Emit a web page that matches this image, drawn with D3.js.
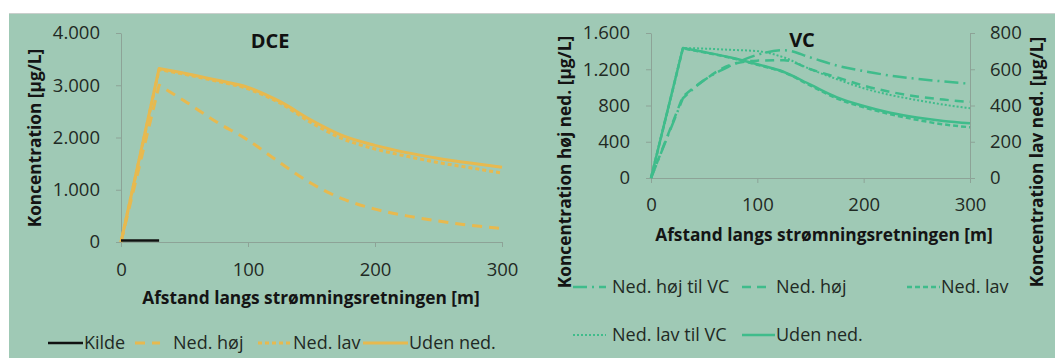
<!DOCTYPE html>
<html>
<head>
<meta charset="utf-8">
<script src="https://cdn.jsdelivr.net/npm/d3@7"></script>
<style>
  body { margin: 0; background: #fff; }
  svg { display: block; font-family: "Open Sans", sans-serif; }
  .axis path, .axis line { stroke: #8da397; }
  .axis text { font-size: 18.5px; fill: #1f2a24; font-family: "Open Sans", sans-serif; }
  .title { font-size: 20px; font-weight: bold; fill: #111; font-family: "Open Sans", sans-serif; }
  .axis-label { font-size: 17.3px; font-weight: bold; fill: #141414; font-family: "Open Sans", sans-serif; }
  .legend-text { font-size: 18px; fill: #1f2a24; font-family: "Open Sans", sans-serif; }
</style>
</head>
<body>
<script>
// distances along the flow direction [m]
const dceDist = [0, 30, 50, 75, 100, 125, 150, 175, 200, 225, 250, 275, 300];
const kildeDist = [0, 30];
const dceKilde = [30, 30];
const dceNedHoj = [0, 3000, 2700, 2300, 1950, 1520, 1120, 820, 630, 500, 400, 320, 260];
const dceNedLav = [0, 3300, 3210, 3080, 2930, 2660, 2280, 1970, 1780, 1640, 1520, 1420, 1320];
const dceUden = [0, 3320, 3230, 3100, 2960, 2690, 2330, 2030, 1850, 1710, 1600, 1510, 1430];

const vcDist = [0, 30, 50, 75, 100, 125, 150, 175, 200, 225, 250, 275, 300];
// left axis (høj ned.)
const vcNedHojTilVC = [0, 880, 1080, 1240, 1360, 1410, 1330, 1240, 1180, 1130, 1095, 1065, 1040];
const vcNedHoj = [0, 900, 1080, 1250, 1295, 1300, 1200, 1110, 1020, 950, 900, 865, 840];
const vcUden = [0, 1435, 1390, 1330, 1255, 1170, 1030, 890, 795, 720, 668, 630, 605];
// right axis (lav ned.)
const vcNedLav = [0, 715, 693, 663, 625, 583, 510, 438, 390, 352, 321, 296, 280];
const vcNedLavTilVC = [0, 717, 714, 707, 700, 665, 600, 545, 495, 458, 430, 405, 385];

const xTicks = [0, 100, 200, 300];
const dceTicksY = [0, 1000, 2000, 3000, 4000];
const vcTicksLeft = [0, 400, 800, 1200, 1600];
const vcTicksRight = [0, 200, 400, 600, 800];

const fmt = d3.formatLocale({ decimal: ",", thousands: ".", grouping: [3], currency: ["", ""] }).format(",");

const orange = "#e7b94f";
const green = "#3fbc8b";

const svg = d3.select("body").append("svg").attr("width", 1055).attr("height", 358);
svg.append("rect").attr("x", 9).attr("y", 13).attr("width", 1046).attr("height", 345).attr("fill", "#9fc9b5");
svg.append("line").attr("x1", 9).attr("x2", 1055).attr("y1", 13.5).attr("y2", 13.5).attr("stroke", "#c9cfcc");

// sharp corner at the source end, smooth afterwards
const lin = d3.line();
const mono = d3.line().curve(d3.curveMonotoneX);
const pathFor = (xs, ys, x, y) => {
  const pts = xs.map((d, i) => [x(d), y(ys[i])]);
  if (pts.length < 3) return lin(pts);
  return lin(pts.slice(0, 2)) + mono(pts.slice(1)).replace(/^M[^A-Za-z]*/, "");
};

const drawLine = (g, d, color, width, dash) => {
  g.append("path")
    .attr("d", d)
    .attr("fill", "none")
    .attr("stroke", color)
    .attr("stroke-width", width)
    .attr("stroke-dasharray", dash)
    .attr("stroke-linejoin", "round");
};

const legendItem = (g, x0, x1, tx, y, label, color, width, dash) => {
  g.append("line").attr("x1", x0).attr("x2", x1).attr("y1", y).attr("y2", y)
    .attr("stroke", color).attr("stroke-width", width).attr("stroke-dasharray", dash);
  g.append("text").attr("class", "legend-text").attr("x", tx).attr("y", y + 6).text(label);
};

//--> DCE
const dx = d3.scaleLinear().domain([0, 300]).range([121, 502]);
const dy = d3.scaleLinear().domain([0, 4000]).range([242, 33]);

svg.append("g").attr("class", "axis")
  .attr("transform", "translate(0,242)")
  .call(d3.axisBottom(dx).tickValues(xTicks).tickSizeInner(5).tickSizeOuter(0).tickPadding(16));
svg.append("g").attr("class", "axis")
  .attr("transform", "translate(121,0)")
  .call(d3.axisLeft(dy).tickValues(dceTicksY).tickFormat(fmt).tickSizeInner(5).tickSizeOuter(0).tickPadding(16));

drawLine(svg, pathFor(dceDist, dceNedHoj, dx, dy), orange, 3, "10,7");
drawLine(svg, pathFor(dceDist, dceNedLav, dx, dy), orange, 3, "4,3");
drawLine(svg, pathFor(dceDist, dceUden, dx, dy), orange, 3, null);
drawLine(svg, pathFor(kildeDist, dceKilde, dx, dy), "#111", 2.5, null);

svg.append("text").attr("class", "title").attr("x", 270).attr("y", 48).attr("text-anchor", "middle").text("DCE");
svg.append("text").attr("class", "axis-label").attr("x", 311).attr("y", 304).attr("text-anchor", "middle")
  .text("Afstand langs strømningsretningen [m]");
svg.append("text").attr("class", "axis-label").attr("transform", "translate(41,138) rotate(-90)")
  .attr("text-anchor", "middle").text("Koncentration [µg/L]");

legendItem(svg, 48, 83, 84, 343, "Kilde", "#111", 2.5, null);
legendItem(svg, 135, 160, 173, 343, "Ned. høj", orange, 3, "10,7");
legendItem(svg, 258, 292, 293, 343, "Ned. lav", orange, 3, "4,3");
legendItem(svg, 363, 408, 409, 343, "Uden ned.", orange, 3, null);

//--> VC
const vx = d3.scaleLinear().domain([0, 300]).range([651, 970]);
const vyL = d3.scaleLinear().domain([0, 1600]).range([178, 33]);
const vyR = d3.scaleLinear().domain([0, 800]).range([178, 33]);

svg.append("g").attr("class", "axis")
  .attr("transform", "translate(0,178)")
  .call(d3.axisBottom(vx).tickValues(xTicks).tickSizeInner(5).tickSizeOuter(0).tickPadding(15));
svg.append("g").attr("class", "axis")
  .attr("transform", "translate(651,0)")
  .call(d3.axisLeft(vyL).tickValues(vcTicksLeft).tickFormat(fmt).tickSizeInner(5).tickSizeOuter(0).tickPadding(16));
svg.append("g").attr("class", "axis")
  .attr("transform", "translate(970,0)")
  .call(d3.axisRight(vyR).tickValues(vcTicksRight).tickFormat(fmt).tickSizeInner(5).tickSizeOuter(0).tickPadding(15));

drawLine(svg, pathFor(vcDist, vcNedHojTilVC, vx, vyL), green, 2.5, "14,5,2,5");
drawLine(svg, pathFor(vcDist, vcNedHoj, vx, vyL), green, 2.5, "9,6");
drawLine(svg, pathFor(vcDist, vcNedLav, vx, vyR), green, 2.5, "5,3");
drawLine(svg, pathFor(vcDist, vcNedLavTilVC, vx, vyR), green, 2, "2,2");
drawLine(svg, pathFor(vcDist, vcUden, vx, vyL), green, 2.5, null);

svg.append("text").attr("class", "title").attr("x", 802).attr("y", 47).attr("text-anchor", "middle").text("VC");
svg.append("text").attr("class", "axis-label").attr("x", 824).attr("y", 241).attr("text-anchor", "middle")
  .text("Afstand langs strømningsretningen [m]");
svg.append("text").attr("class", "axis-label").attr("transform", "translate(571,162) rotate(-90)")
  .attr("text-anchor", "middle").text("Koncentration høj ned. [µg/L]");
svg.append("text").attr("class", "axis-label").attr("transform", "translate(1043,162) rotate(-90)")
  .attr("text-anchor", "middle").text("Koncentration lav ned. [µg/L]");

const vcLegend = svg.append("g");
legendItem(vcLegend, 573, 606, 612, 287, "Ned. høj til VC", green, 2.5, "14,5,2,5");
legendItem(vcLegend, 742, 769, 776, 287, "Ned. høj", green, 2.5, "9,6");
legendItem(vcLegend, 907, 940, 941, 287, "Ned. lav", green, 2.5, "5,3");
legendItem(vcLegend, 573, 606, 612, 335, "Ned. lav til VC", green, 2, "2,2");
legendItem(vcLegend, 742, 775, 776, 335, "Uden ned.", green, 2.5, null);
</script>
</body>
</html>
